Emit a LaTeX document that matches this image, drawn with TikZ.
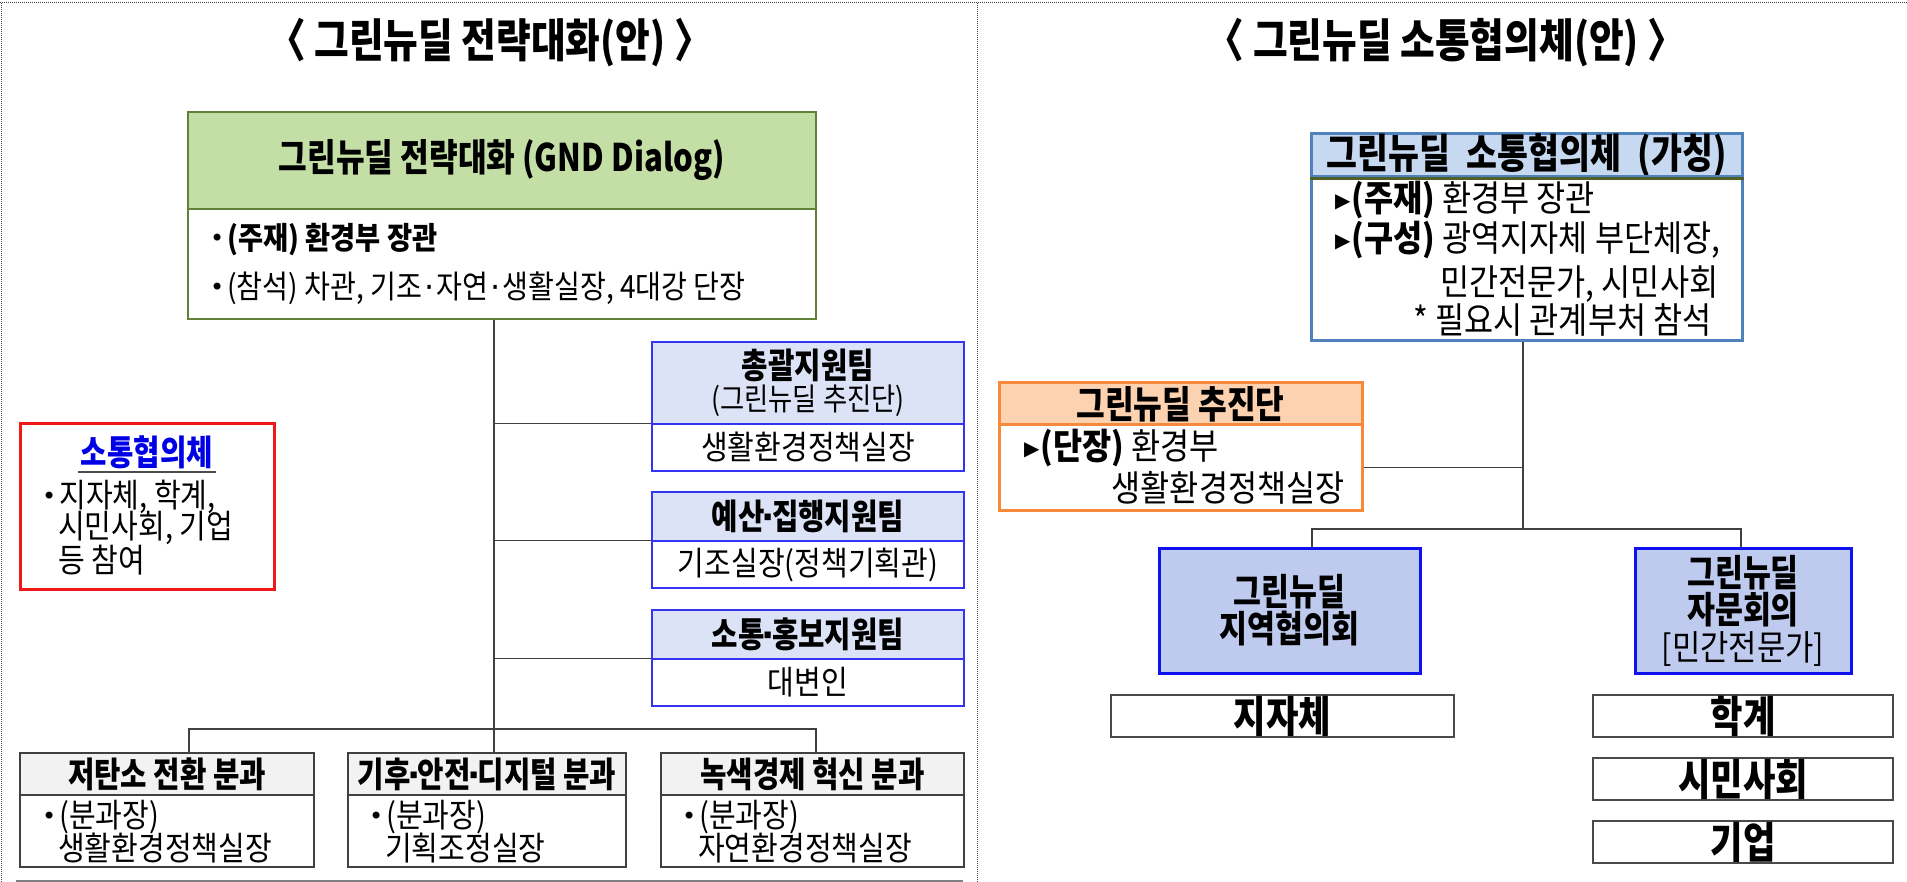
\documentclass[tikz,border=0pt]{standalone}
\usepackage{fontspec}
\setmainfont{Noto Sans CJK KR}[FakeStretch=0.88]
\newfontfamily\hd{Noto Sans CJK KR}[FakeStretch=0.82]
\newfontfamily\sym{DejaVu Sans}
\usetikzlibrary{calc}
\newcommand\myfs[1]{\fontsize{#1}{#1}\selectfont}
\newcommand\tri{\raisebox{4pt}{\sym\myfs{20}▶}\kern1pt}
\newcommand\bul{\raisebox{3pt}{\sym\myfs{24}•}\kern3pt}
\newcommand\mdt{\kern-3pt{\sym ·}\kern-3pt}
\definecolor{gfill}{HTML}{C4DFA5}
\definecolor{gline}{HTML}{5F8236}
\definecolor{tline}{HTML}{3434F5}
\definecolor{tfill}{HTML}{DCE3F6}
\definecolor{rline}{HTML}{F01818}
\definecolor{rtext}{HTML}{0000E6}
\definecolor{bline}{HTML}{404040}
\definecolor{bfill}{HTML}{F2F2F2}
\definecolor{mfill}{HTML}{C6D9F1}
\definecolor{mline}{HTML}{4F81BD}
\definecolor{msep}{HTML}{4F6228}
\definecolor{ofill}{HTML}{FCD2B1}
\definecolor{oline}{HTML}{F7893A}
\definecolor{pfill}{HTML}{BFCBEE}
\definecolor{pline}{HTML}{1010F0}
\definecolor{wline}{HTML}{4A4A4A}
\begin{document}
\begin{tikzpicture}[x=1pt,y=-1pt,
  box/.style={draw, inner sep=0pt, align=center},
  txt/.style={inner sep=0pt, anchor=west},
  ttl/.style={inner sep=0pt, font=\hd\bfseries\myfs{46}},
  conn/.style={draw=black!75, line width=1.3pt},
  frm/.style={draw=black!75, line width=1pt, densely dotted},
  gbox/.style={box, draw=gline, line width=2pt, minimum width=628pt},
  tbox/.style={box, draw=tline, line width=1.5pt, minimum width=312pt},
  bbox/.style={box, draw=bline, line width=1.5pt},
  mbox/.style={box, draw=mline, line width=3pt, minimum width=431pt},
  obox/.style={box, draw=oline, line width=3pt, minimum width=363pt},
  pbox/.style={box, draw=pline, fill=pfill, line width=3pt, minimum height=125pt, font=\hd\bfseries\myfs{37}},
  wbox/.style={box, draw=wline, line width=2pt, minimum height=42pt, font=\hd\bfseries\myfs{43}},
  hfont/.style={font=\hd\bfseries\myfs{35}},
  nfont/.style={font=\myfs{33}},
  rfont/.style={font=\myfs{36}}
]
\useasboundingbox (0,0) rectangle (1907,882);
% frame
\draw[frm] (0,3) -- (1907,3);
\draw[frm] (1,3) -- (1,882);
\draw[frm] (977,3) -- (977,882);
\draw[draw=black!50, line width=3pt] (16,881) -- (963,881);

% ===== left panel =====
\node[ttl] (lt) at (490,43) {〈 그린뉴딜 전략대화(안) 〉};
\node[gbox, fill=gfill, minimum height=97pt, font=\hd\bfseries\myfs{38}] (gh) at (502,160.5) {그린뉴딜 전략대화 (GND Dialog)};
\node[gbox, minimum height=110pt] (gb) at (502,264) {};
\node[txt, font=\myfs{31}] (g1) at (210,240) {\bul{\bfseries (주재) 환경부 장관}};
\node[txt, font=\myfs{32}] (g2) at (210,288) {\bul(참석) 차관, 기조{\kern2pt\sym ·\kern2pt}자연{\kern2pt\sym ·\kern2pt}생활실장, 4대강 단장};

% team boxes
\node[tbox, fill=tfill, minimum height=82pt, font=\hd\bfseries\myfs{35}] (t1h) at (808,383) {총괄지원팀\\[-3pt]{\mdseries\fontspec{Noto Sans CJK KR}[FakeStretch=0.85]\myfs{31}(그린뉴딜 추진단)}};
\node[tbox, minimum height=47pt, nfont] (t1b) at (808,447.5) {생활환경정책실장};
\node[tbox, fill=tfill, minimum height=49pt, hfont] (t2h) at (808,516.5) {예산\mdt 집행지원팀};
\node[tbox, minimum height=47pt, nfont] (t2b) at (808,564.5) {기조실장(정책기획관)};
\node[tbox, fill=tfill, minimum height=49pt, hfont] (t3h) at (808,634.5) {소통\mdt 홍보지원팀};
\node[tbox, minimum height=47pt, nfont] (t3b) at (808,682.5) {대변인};

% red box
\node[box, draw=rline, line width=3pt, minimum width=254pt, minimum height=165pt] (rb) at (147,506.5) {};
\node[inner sep=0pt, text=rtext, hfont] (rt) at (147,452) {소통협의체};
\draw[draw=black!70, line width=2pt] ($(rt.south west)+(-3,3)$) -- ($(rt.south east)+(3,3)$);
\node[txt, nfont] (r1) at (42,497) {\bul 지자체, 학계,};
\node[txt, nfont] (r2) at (58,528) {시민사회, 기업};
\node[txt, nfont] (r3) at (58,560) {등 참여};

% bottom boxes
\node[bbox, fill=bfill, minimum width=294pt, minimum height=42pt, hfont] (b1h) at (167,774) {저탄소 전환 분과};
\node[bbox, minimum width=294pt, minimum height=72pt] (b1b) at (167,831) {};
\node[bbox, fill=bfill, minimum width=278pt, minimum height=42pt, hfont] (b2h) at (487,774) {기후\mdt 안전\mdt 디지털 분과};
\node[bbox, minimum width=278pt, minimum height=72pt] (b2b) at (487,831) {};
\node[bbox, fill=bfill, minimum width=303pt, minimum height=42pt, hfont] (b3h) at (812.5,774) {녹색경제 혁신 분과};
\node[bbox, minimum width=303pt, minimum height=72pt] (b3b) at (812.5,831) {};
\node[txt, nfont] (b1a) at (42,817) {\bul(분과장)};
\node[txt, nfont] (b1c) at (58,848) {생활환경정책실장};
\node[txt, nfont] (b2a) at (369,817) {\bul(분과장)};
\node[txt, nfont] (b2c) at (385,848) {기획조정실장};
\node[txt, nfont] (b3a) at (682,817) {\bul(분과장)};
\node[txt, nfont] (b3c) at (698,848) {자연환경정책실장};

% connectors left
\coordinate (j1) at (494,729);
\coordinate (bl) at (189,729);
\coordinate (br) at (816,729);
\draw[conn] (gb.south -| j1) -- (j1) -- (j1 |- b2h.north);
\draw[conn] (bl |- b1h.north) -- (bl) -- (br) -- (br |- b3h.north);
\draw[conn] (t1b.north west) -- (t1b.north west -| j1);
\draw[conn] (t2b.north west) -- (t2b.north west -| j1);
\draw[conn] (t3b.north west) -- (t3b.north west -| j1);
\draw[draw=black!75, line width=1.3pt, densely dotted] ($(rb.north east)!0.412!(rb.south east)$) -- ($(rb.north east)!0.412!(rb.south east)$ -| j1);

% ===== right panel =====
\node[ttl] (rtl) at (1446,43) {〈 그린뉴딜 소통협의체(안) 〉};
\node[mbox, fill=mfill, minimum height=43pt, font=\hd\bfseries\myfs{41}] (mh) at (1526.5,155.5) {그린뉴딜\hspace{0.4em}소통협의체\hspace{0.4em}(가칭)};
\node[mbox, minimum height=164pt] (mb) at (1526.5,259) {};
\draw[draw=msep, line width=3pt] (mh.south west) -- (mh.south east);
\node[txt, rfont] (m1) at (1335,200) {\tri{\bfseries(주재)} 환경부 장관};
\node[txt, rfont] (m2) at (1335,240) {\tri{\bfseries(구성)} 광역지자체 부단체장,};
\node[txt, rfont] (m3) at (1440,284) {민간전문가, 시민사회};
\node[txt, rfont, anchor=east] (m4) at (1712,320) {* 필요시 관계부처 참석};

\node[obox, fill=ofill, minimum height=42pt, font=\hd\bfseries\myfs{38}] (ch) at (1180.5,404) {그린뉴딜 추진단};
\node[obox, minimum height=85pt] (cb) at (1180.5,467.5) {};
\node[txt, rfont] (c1) at (1024,448) {\tri{\bfseries(단장)} 환경부};
\node[txt, rfont, anchor=east] (c2) at (1345,488) {생활환경정책실장};

\node[pbox, minimum width=261pt] (p1) at (1289.5,610.5) {\fontsize{37}{43}\selectfont 그린뉴딜\\지역협의회};
\node[pbox, minimum width=216pt] (p2) at (1743,610.5) {\fontsize{37}{41}\selectfont 그린뉴딜\\자문회의\\{\mdseries\fontspec{Noto Sans CJK KR}[FakeStretch=0.88]\myfs{35}[민간전문가]}};

\node[wbox, minimum width=343pt] (w1) at (1282.5,716) {지자체};
\node[wbox, minimum width=300pt] (w2) at (1743,716) {학계};
\node[wbox, minimum width=300pt] (w3) at (1743,779) {시민사회};
\node[wbox, minimum width=300pt] (w4) at (1743,842) {기업};

\coordinate (rj) at (1523,529);
\coordinate (rl) at (1312,529);
\coordinate (rr) at (1741,529);
\draw[conn] (mb.south -| rj) -- (rj);
\draw[conn] (cb.east) -- (cb.east -| rj);
\draw[conn] (rl |- p1.north) -- (rl) -- (rr) -- (rr |- p2.north);
\end{tikzpicture}
\end{document}
